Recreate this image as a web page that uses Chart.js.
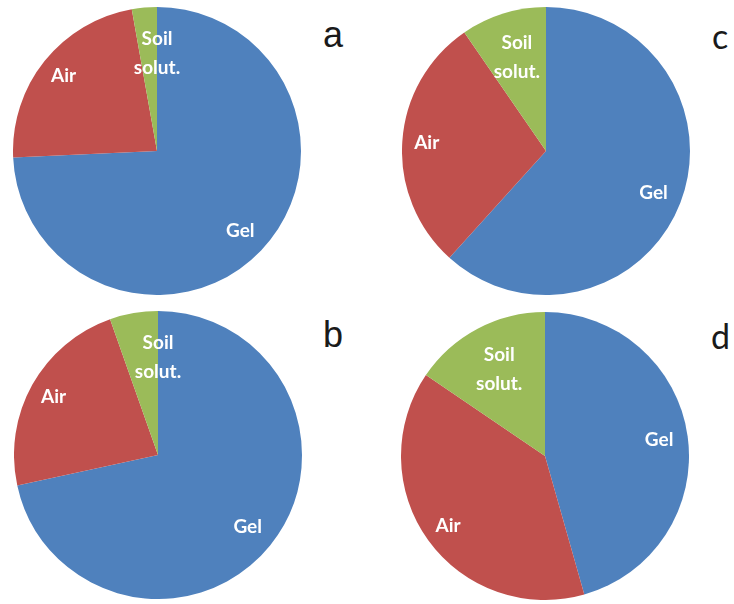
<!DOCTYPE html>
<html><head><meta charset="utf-8">
<script src="https://cdn.jsdelivr.net/npm/chart.js@4.4.1/dist/chart.umd.min.js"></script>
<style>
html,body{margin:0;padding:0;background:#fff;width:734px;height:604px;overflow:hidden}
body{position:relative}
.pie{position:absolute;width:288px;height:288px}
.tag{position:absolute;line-height:36px;color:#1a1a1a;white-space:nowrap}
.ab{font-family:"Liberation Sans",Arial,sans-serif;font-size:36px}
.cd{font-family:Lato,sans-serif;font-size:34px}
</style></head><body>
<div class="pie" style="left:13px;top:7px"><canvas id="pa" width="288" height="288"></canvas></div>
<div class="pie" style="left:14px;top:311px"><canvas id="pb" width="288" height="288"></canvas></div>
<div class="pie" style="left:402px;top:7px"><canvas id="pc" width="288" height="288"></canvas></div>
<div class="pie" style="left:401px;top:312px"><canvas id="pd" width="288" height="288"></canvas></div>
<div class="tag ab" style="left:323px;top:17px">a</div>
<div class="tag ab" style="left:323px;top:317px">b</div>
<div class="tag cd" style="left:712px;top:18px">c</div>
<div class="tag cd" style="left:711px;top:318px">d</div>
<script>
// ---- data ----
const categories = ['Gel', 'Air', 'Soil solut.'];
const panelA = [74.2, 22.9, 2.8];
const panelB = [71.6, 23.0, 5.4];
const panelC = [61.7, 28.7, 9.6];
const panelD = [45.6, 38.9, 15.5];

// ---- style ----
const colors = ['#4F81BD', '#C0504D', '#9BBB59'];
const labelRadius = [0.80, 0.83, 0.68];
const labelLines = categories.map(c => c.split(' '));

const sliceLabels = {
  id: 'sliceLabels',
  afterDatasetsDraw(chart) {
    const ctx = chart.ctx;
    const meta = chart.getDatasetMeta(0);
    ctx.save();
    ctx.fillStyle = '#ffffff';
    ctx.font = 'bold 19px Lato, sans-serif';
    ctx.textAlign = 'center';
    ctx.textBaseline = 'middle';
    meta.data.forEach((arc, i) => {
      const p = arc.getProps(['x', 'y', 'startAngle', 'endAngle', 'outerRadius'], true);
      const span = p.endAngle - p.startAngle;
      const ang = span < 0.45 ? p.endAngle : (p.startAngle + p.endAngle) / 2;
      const r = p.outerRadius * labelRadius[i];
      const cx = p.x + Math.cos(ang) * r;
      const cy = p.y + Math.sin(ang) * r;
      const lines = labelLines[i];
      lines.forEach((t, k) => ctx.fillText(t, cx, cy + (k - (lines.length - 1) / 2) * 29));
    });
    ctx.restore();
  }
};

function makePie(id, values) {
  new Chart(document.getElementById(id), {
    type: 'pie',
    data: {
      labels: categories,
      datasets: [{
        data: values,
        backgroundColor: colors,
        borderWidth: 0,
        hoverOffset: 0,
        offset: 0
      }]
    },
    options: {
      responsive: false,
      animation: false,
      layout: { padding: 0 },
      plugins: { legend: { display: false }, tooltip: { enabled: false } }
    },
    plugins: [sliceLabels]
  });
}
makePie('pa', panelA);
makePie('pb', panelB);
makePie('pc', panelC);
makePie('pd', panelD);
</script>
</body></html>
